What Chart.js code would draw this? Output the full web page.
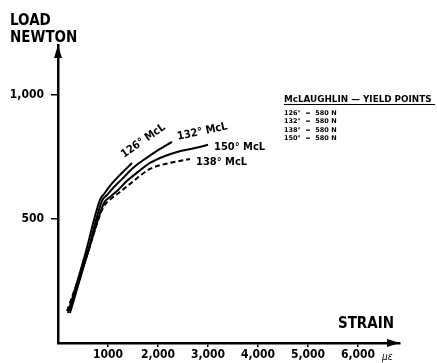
<!DOCTYPE html>
<html>
<head>
<meta charset="utf-8">
<script src="https://cdn.jsdelivr.net/npm/chart.js@4"></script>
<style>
  html, body { margin: 0; padding: 0; background: #fff; }
  #wrap { width: 437px; height: 363px; }
</style>
</head>
<body>
<div id="wrap"><canvas id="lineChart" width="437" height="363"></canvas></div>
<script>
// strain in microstrain, load in newton
const strain126 = [200, 540, 840, 920, 1040, 1200, 1340, 1480];
const load126 = [121, 354, 576, 600, 633, 669, 697, 725];

const strain132 = [240, 580, 880, 980, 1120, 1280, 1500, 1740, 2000, 2280];
const load132 = [121, 354, 572, 596, 628, 660, 705, 741, 777, 810];

const strain150 = [220, 600, 920, 1040, 1180, 1380, 1600, 1840, 2140, 2380, 2740, 3000];
const load150 = [129, 366, 564, 588, 612, 653, 689, 725, 753, 769, 785, 798];

const strain138 = [180, 560, 900, 1080, 1240, 1540, 1840, 2240, 2640];
const load138 = [129, 342, 544, 584, 608, 657, 701, 725, 741];

const xTicks = [1000, 2000, 3000, 4000, 5000, 6000];
const xTickLabels = ["1000", "2,000", "3,000", "4,000", "5,000", "6,000"];
const yTicks = [500, 1000];
const yTickLabels = ["500", "1,000"];

const yieldAngles = ["126°", "132°", "138°", "150°"];
const yieldLoads = [580, 580, 580, 580];

const FONT = "'DejaVu Sans Condensed', 'DejaVu Sans', sans-serif";

document.addEventListener("DOMContentLoaded", function () {
    const ctx = document.getElementById("lineChart").getContext("2d");

    function toPoints(xs, ys) {
        return xs.map((x, i) => ({ x: x, y: ys[i] }));
    }

    function curve(label, xs, ys, dash) {
        return {
            label: label,
            data: toPoints(xs, ys),
            showLine: true,
            borderColor: "#000",
            borderWidth: 2,
            borderDash: dash || [],
            pointRadius: 0,
            cubicInterpolationMode: "monotone",
            fill: false
        };
    }

    // arrow heads, axis titles, curve labels and the yield point table
    const annotations = {
        id: "annotations",
        afterDraw(chart) {
            const c = chart.ctx;
            const area = chart.chartArea;
            const xs = chart.scales.x;
            const ys = chart.scales.y;
            c.save();
            c.fillStyle = "#000";

            // arrow heads
            c.beginPath();
            c.moveTo(area.left, area.top);
            c.lineTo(area.left - 4, area.top + 13);
            c.lineTo(area.left + 4, area.top + 13);
            c.closePath();
            c.fill();
            c.beginPath();
            c.moveTo(area.right, area.bottom);
            c.lineTo(area.right - 13, area.bottom - 4);
            c.lineTo(area.right - 13, area.bottom + 4);
            c.closePath();
            c.fill();

            // axis titles
            c.font = "bold 15px " + FONT;
            c.textAlign = "left";
            c.textBaseline = "alphabetic";
            c.fillText("LOAD", 10, 25);
            c.fillText("NEWTON", 10, 42);
            c.textAlign = "right";
            c.fillText("STRAIN", area.right - 6, area.bottom - 15);
            c.font = "italic 10px " + FONT;
            c.textAlign = "left";
            c.fillText("\u03bc\u03b5", xs.getPixelForValue(6000) + 24, area.bottom + 17);

            // curve labels, placed from each curve's last point
            function endOf(xsArr, ysArr) {
                const n = xsArr.length - 1;
                return { x: xs.getPixelForValue(xsArr[n]), y: ys.getPixelForValue(ysArr[n]) };
            }
            c.font = "bold 11px " + FONT;

            let p = endOf(strain126, load126);
            c.save();
            c.translate(p.x - 8, p.y - 5);
            c.rotate(-35 * Math.PI / 180);
            c.fillText("126° McL", 0, 0);
            c.restore();

            p = endOf(strain132, load132);
            c.save();
            c.translate(p.x + 6, p.y - 2);
            c.rotate(-12 * Math.PI / 180);
            c.fillText("132° McL", 0, 0);
            c.restore();

            p = endOf(strain150, load150);
            c.fillText("150° McL", p.x + 6, p.y + 5);

            p = endOf(strain138, load138);
            c.fillText("138° McL", p.x + 6, p.y + 6);

            // yield point table
            const tx = 284;
            c.font = "bold 8.8px 'DejaVu Sans', sans-serif";
            c.fillText("McLAUGHLIN \u2014 YIELD POINTS", tx, 102);
            c.fillRect(tx, 104, 151, 1);
            c.font = "bold 6.5px 'DejaVu Sans', sans-serif";
            yieldAngles.forEach((a, i) => {
                c.fillText(a + "  =  " + yieldLoads[i] + " N", tx, 115 + i * 8.4);
            });
            c.restore();
        }
    };

    new Chart(ctx, {
        type: "scatter",
        data: {
            datasets: [
                curve("126° McL", strain126, load126),
                curve("132° McL", strain132, load132),
                curve("150° McL", strain150, load150),
                curve("138° McL", strain138, load138, [5, 3])
            ]
        },
        options: {
            responsive: false,
            animation: false,
            layout: { padding: { top: 45, right: 37, left: 0, bottom: 0 } },
            plugins: {
                legend: { display: false },
                tooltip: { enabled: false }
            },
            scales: {
                x: {
                    type: "linear",
                    min: 0,
                    max: 6840,
                    afterBuildTicks: scale => { scale.ticks = xTicks.map(v => ({ value: v })); },
                    afterFit: scale => { scale.height = 20; },
                    grid: { drawOnChartArea: false, drawTicks: true, tickLength: 4, color: "#000", lineWidth: 1.5 },
                    border: { display: true, color: "#000", width: 2.5 },
                    ticks: {
                        color: "#000",
                        padding: 1,
                        maxRotation: 0,
                        font: { family: FONT, size: 12, weight: "bold" },
                        callback: value => xTickLabels[xTicks.indexOf(value)]
                    }
                },
                y: {
                    type: "linear",
                    min: 0,
                    max: 1200,
                    afterBuildTicks: scale => { scale.ticks = yTicks.map(v => ({ value: v })); },
                    afterFit: scale => { scale.width = 58; },
                    grid: { drawOnChartArea: false, drawTicks: true, tickLength: 7, color: "#000", lineWidth: 1.5 },
                    border: { display: true, color: "#000", width: 2.5 },
                    ticks: {
                        color: "#000",
                        padding: 7,
                        font: { family: FONT, size: 12, weight: "bold" },
                        callback: value => yTickLabels[yTicks.indexOf(value)]
                    }
                }
            }
        },
        plugins: [annotations]
    });
});
</script>
</body>
</html>
